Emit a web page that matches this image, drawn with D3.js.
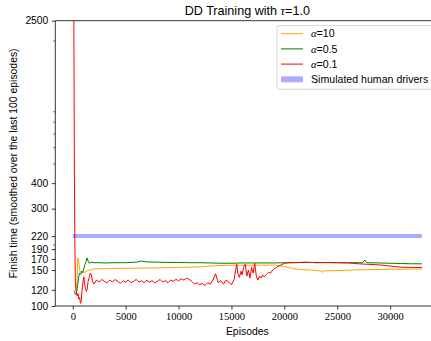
<!DOCTYPE html>
<html>
<head>
<meta charset="utf-8">
<script src="https://cdn.jsdelivr.net/npm/d3@7"></script>
<style>
  body { margin: 0; background: #fff; }
  text { font-family: "Liberation Sans", Arial, sans-serif; }
</style>
</head>
<body>
<div class="chart"></div>
<script>
// smoothed finish time per episode
const alpha10 = [
  [150, 118], [300, 122], [400, 130], [480, 172], [560, 166], [650, 150], [750, 146],
  [900, 147], [1050, 146], [1200, 147], [1400, 149], [1600, 150], [1800, 151], [2000, 152],
  [3000, 152.5], [5000, 153], [7000, 153.5], [9000, 154], [11000, 155], [12000, 155.5],
  [13000, 157], [14000, 158], [15000, 158.5], [17000, 158.5], [19000, 158.5], [19500, 158],
  [20000, 156], [20500, 154], [21000, 152], [21500, 151], [22500, 150], [23500, 148.5],
  [23600, 146], [23700, 148.5], [24500, 149], [25500, 149.5], [27000, 150.5], [29000, 151],
  [31000, 151.5], [33000, 152]
];

const alpha05 = [
  [150, 118], [250, 114], [350, 116], [450, 125], [550, 138], [650, 145], [750, 143],
  [850, 148], [950, 146], [1050, 152], [1150, 160], [1250, 165], [1350, 172], [1450, 166],
  [1550, 162], [1700, 164], [2000, 163], [2500, 163], [3000, 162.5], [4000, 163],
  [5000, 163], [6000, 164], [6500, 166], [7000, 164.5], [8000, 164], [9000, 163.5],
  [10000, 163.5], [11000, 163], [12000, 163], [13000, 162.5], [14000, 162], [15000, 162],
  [16000, 162.5], [17000, 162.5], [18000, 162.5], [19000, 162.5], [20000, 163],
  [22000, 163.5], [24000, 163], [26000, 163], [27400, 163], [27600, 168], [27800, 163],
  [29000, 162.5], [30000, 162], [31000, 161.5], [32000, 161], [33000, 161]
];

const alpha01 = [
  [80, 5000], [120, 1500], [160, 400], [200, 200], [250, 128], [330, 118], [410, 112],
  [500, 115], [580, 108], [650, 110], [730, 103], [800, 106], [870, 118], [950, 130],
  [1050, 139], [1120, 128], [1200, 122], [1280, 118], [1360, 121], [1450, 132], [1550, 138],
  [1650, 145], [1760, 142], [1850, 133], [1980, 128],
  [2250, 134], [2500, 131], [2750, 135], [3000, 132], [3250, 130], [3500, 134], [3750, 131],
  [4000, 135], [4250, 132], [4500, 129], [4750, 133], [5000, 131], [5250, 134], [5500, 130],
  [5750, 132], [6000, 135], [6250, 131], [6500, 133], [6750, 130], [7000, 134], [7250, 131],
  [7500, 133], [7750, 130], [8000, 132], [8250, 135], [8500, 131], [8750, 133], [9000, 130],
  [9250, 134], [9500, 132], [9750, 135], [10000, 133], [10250, 136], [10500, 134],
  [10750, 137], [11000, 135], [11250, 132], [11500, 128], [11750, 130], [12000, 127],
  [12250, 129], [12500, 126], [12750, 130], [13000, 128], [13250, 134], [13500, 144],
  [13750, 130], [14000, 133], [14250, 128], [14500, 134], [14750, 131], [15000, 127],
  [15250, 135], [15400, 150], [15500, 160], [15600, 145], [15750, 138], [15900, 148],
  [16000, 142], [16150, 155], [16300, 160], [16450, 140], [16600, 150], [16750, 137],
  [16900, 155], [17050, 145], [17200, 162], [17350, 140], [17500, 134], [17650, 140],
  [17800, 137], [17950, 142], [18100, 139], [18300, 143], [18500, 146], [18700, 145],
  [18900, 150], [19100, 153], [19300, 155], [19500, 157], [19700, 159], [19900, 161],
  [20100, 162], [20500, 163], [21000, 163], [22000, 164], [23000, 163], [24000, 163.5],
  [25000, 163], [26000, 162.5], [27000, 161], [28000, 160], [29000, 159], [30000, 157],
  [31000, 155], [32000, 154.5], [33000, 154.5]
];

const humanLevel = [[0, 220], [33000, 220]];

const yTicks = [100, 120, 150, 170, 190, 220, 300, 400, 2500];
const yMinorTicks = [200, 500, 600, 700, 800, 900, 2000];
const xTicks = [0, 5000, 10000, 15000, 20000, 25000, 30000];

const W = 431, H = 341;
const mLeft = 55.3, mTop = 20.7, mBottom = 306;
const serif = '"Liberation Serif", "DejaVu Serif", serif';

const svg = d3.select('.chart')
    .append('svg')
    .attr('width', W)
    .attr('height', H);

const x = d3.scaleLinear()
    .domain([-1650, 34650])
    .range([mLeft, mLeft + 36300 * 0.01058]);

const y = d3.scaleLog()
    .domain([100, 2500])
    .range([mBottom, mTop]);

svg.append('clipPath')
    .attr('id', 'plot')
    .append('rect')
    .attr('x', mLeft)
    .attr('y', mTop)
    .attr('width', x.range()[1] - mLeft)
    .attr('height', mBottom - mTop);

const line = d3.line()
    .x(d => x(d[0]))
    .y(d => y(d[1]));

const plot = svg.append('g').attr('clip-path', 'url(#plot)');

const series = [
    { data: alpha10, color: '#ffa500' },
    { data: alpha05, color: '#008000' },
    { data: alpha01, color: '#ff0000' }
];

series.forEach(s => {
    plot.append('path')
        .datum(s.data)
        .attr('fill', 'none')
        .attr('stroke', s.color)
        .attr('stroke-width', 1)
        .attr('d', line);
});

plot.append('path')
    .datum(humanLevel)
    .attr('fill', 'none')
    .attr('stroke', 'blue')
    .attr('stroke-opacity', 0.33)
    .attr('stroke-width', 4)
    .attr('d', line);

// axes
const xAxis = svg.append('g')
    .attr('transform', `translate(0,${mBottom})`)
    .call(d3.axisBottom(x).tickValues(xTicks).tickSize(3.5).tickPadding(3).tickFormat(d3.format('d')));
xAxis.selectAll('text')
    .style('font-family', serif)
    .style('font-size', '10.5px')
    .attr('fill', '#000');

const yAxis = svg.append('g')
    .attr('transform', `translate(${mLeft},0)`)
    .call(d3.axisLeft(y).tickValues(yTicks).tickSize(3.5).tickPadding(3.5).tickFormat(d3.format('d')));
yAxis.selectAll('text')
    .style('font-size', '10.3px')
    .attr('fill', '#000');

svg.append('g')
    .attr('transform', `translate(${mLeft},0)`)
    .call(d3.axisLeft(y).tickValues(yMinorTicks).tickSize(2).tickFormat(''))
    .call(g => g.select('.domain').remove())
    .selectAll('.tick line').attr('stroke-width', 0.6);

[xAxis, yAxis].forEach(a => {
    a.select('.domain').remove();
    a.selectAll('.tick line').attr('stroke-width', 0.8);
});

// spines
svg.append('line')
    .attr('x1', mLeft).attr('x2', mLeft).attr('y1', mTop).attr('y2', mBottom)
    .attr('stroke', '#000').attr('stroke-width', 0.8);
svg.append('line')
    .attr('x1', mLeft).attr('x2', W).attr('y1', mBottom).attr('y2', mBottom)
    .attr('stroke', '#000').attr('stroke-width', 0.8);
svg.append('line')
    .attr('x1', mLeft).attr('x2', W).attr('y1', mTop).attr('y2', mTop)
    .attr('stroke', '#000').attr('stroke-width', 0.8);

// labels
const title = svg.append('text')
    .attr('x', (mLeft + x.range()[1]) / 2)
    .attr('y', 14.5)
    .attr('text-anchor', 'middle')
    .style('font-size', '12.6px');
title.append('tspan').text('DD Training with ');
title.append('tspan').text('τ')
    .style('font-family', serif).style('font-style', 'italic');
title.append('tspan').text('=1.0');

svg.append('text')
    .attr('x', (mLeft + x.range()[1]) / 2)
    .attr('y', 334.5)
    .attr('text-anchor', 'middle')
    .style('font-size', '10.4px')
    .text('Episodes');

svg.append('text')
    .attr('transform', `translate(17,${(mTop + mBottom) / 2}) rotate(-90)`)
    .attr('text-anchor', 'middle')
    .style('font-size', '10.4px')
    .text('Finish time (smoothed over the last 100 episodes)');

// legend
const legendItems = [
    { label: '=10', color: '#ffa500', alpha: true },
    { label: '=0.5', color: '#008000', alpha: true },
    { label: '=0.1', color: '#ff0000', alpha: true },
    { label: 'Simulated human drivers', color: 'blue', patch: true }
];

const legend = svg.append('g').attr('transform', 'translate(277,25.7)');
legend.append('rect')
    .attr('width', 170)
    .attr('height', 63.6)
    .attr('rx', 2)
    .attr('fill', '#fff')
    .attr('fill-opacity', 0.8)
    .attr('stroke', '#cccccc')
    .attr('stroke-width', 0.8);

legendItems.forEach((d, i) => {
    const cy = 8 + i * 15.2;
    if (d.patch) {
        legend.append('rect')
            .attr('x', 4).attr('y', cy - 3)
            .attr('width', 22).attr('height', 6)
            .attr('fill', d.color).attr('fill-opacity', 0.33);
    } else {
        legend.append('line')
            .attr('x1', 4).attr('x2', 26).attr('y1', cy).attr('y2', cy)
            .attr('stroke', d.color).attr('stroke-width', 1);
    }
    const t = legend.append('text')
        .attr('x', 34)
        .attr('y', cy + 3.7)
        .style('font-size', '10.6px');
    if (d.alpha) {
        t.append('tspan').text('α')
            .style('font-family', serif).style('font-style', 'italic');
    }
    t.append('tspan').text(d.label);
});
</script>
</body>
</html>
